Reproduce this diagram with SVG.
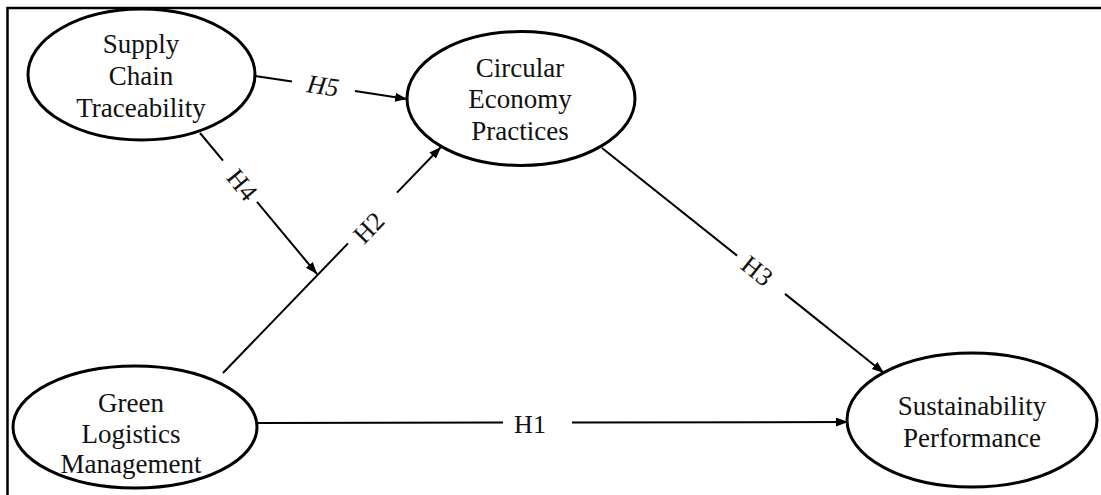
<svg xmlns="http://www.w3.org/2000/svg" width="1101" height="495" viewBox="0 0 1101 495">
<style>
.node{fill:#fff;stroke:#000;stroke-width:3}
.nt{font-family:"Liberation Serif","Times New Roman",serif;font-size:27px;fill:#111;text-anchor:middle}
.lb{font-family:"Liberation Serif","Times New Roman",serif;font-size:26px;fill:#111;text-anchor:middle;dominant-baseline:central}
.cn{stroke:#000;stroke-width:2;fill:none}
</style>
<defs>
<marker id="ah" markerUnits="userSpaceOnUse" markerWidth="13" markerHeight="10" refX="12" refY="4.5" orient="auto">
<path d="M0,0 L12,4.5 L0,9 z" fill="#000"/>
</marker>
</defs>
<rect width="1101" height="495" fill="#fff"/>
<path d="M7.5,495 V8 H1101" fill="none" stroke="#000" stroke-width="2.5"/>
<g id="connectors">
<g id="c-h5">
<line class="cn" x1="255" y1="76" x2="292" y2="81.6"/>
<line class="cn" x1="355" y1="91.1" x2="407" y2="99" marker-end="url(#ah)"/>
<text class="lb" transform="translate(323,86) rotate(8.6)" font-style="italic">H5</text>
</g>
<g id="c-h4">
<line class="cn" x1="200" y1="133" x2="223" y2="160.7"/>
<line class="cn" x1="257" y1="201.8" x2="317" y2="274" marker-end="url(#ah)"/>
<text class="lb" transform="translate(242,185) rotate(50.6)">H4</text>
</g>
<g id="c-h2">
<line class="cn" x1="223" y1="373" x2="348" y2="243.4"/>
<line class="cn" x1="397" y1="192.6" x2="441" y2="147" marker-end="url(#ah)"/>
<text class="lb" transform="translate(369,228) rotate(-46)">H2</text>
</g>
<g id="c-h3">
<line class="cn" x1="602" y1="148" x2="737" y2="255.6"/>
<line class="cn" x1="785" y1="293.9" x2="884" y2="373" marker-end="url(#ah)"/>
<text class="lb" transform="translate(757,271) rotate(38.6)">H3</text>
</g>
<g id="c-h1">
<line class="cn" x1="258" y1="423" x2="503" y2="422.5"/>
<line class="cn" x1="572" y1="422.5" x2="848" y2="422" marker-end="url(#ah)"/>
<text class="lb" x="530" y="424">H1</text>
</g>
</g>
<g id="n-sct">
<ellipse class="node" cx="141.5" cy="74.5" rx="113.5" ry="65.5"/>
<text class="nt" x="141" y="53">Supply</text>
<text class="nt" x="141" y="85">Chain</text>
<text class="nt" x="141" y="117">Traceability</text>
</g>
<g id="n-cep">
<ellipse class="node" cx="521" cy="98.5" rx="114" ry="67"/>
<text class="nt" x="520" y="77">Circular</text>
<text class="nt" x="520" y="108">Economy</text>
<text class="nt" x="520" y="140">Practices</text>
</g>
<g id="n-glm">
<ellipse class="node" cx="135" cy="427" rx="122" ry="61"/>
<text class="nt" x="131" y="412">Green</text>
<text class="nt" x="131" y="443">Logistics</text>
<text class="nt" x="131" y="473">Management</text>
</g>
<g id="n-sp">
<ellipse class="node" cx="972" cy="420" rx="125" ry="67"/>
<text class="nt" x="972" y="415">Sustainability</text>
<text class="nt" x="972" y="447">Performance</text>
</g>
</svg>
